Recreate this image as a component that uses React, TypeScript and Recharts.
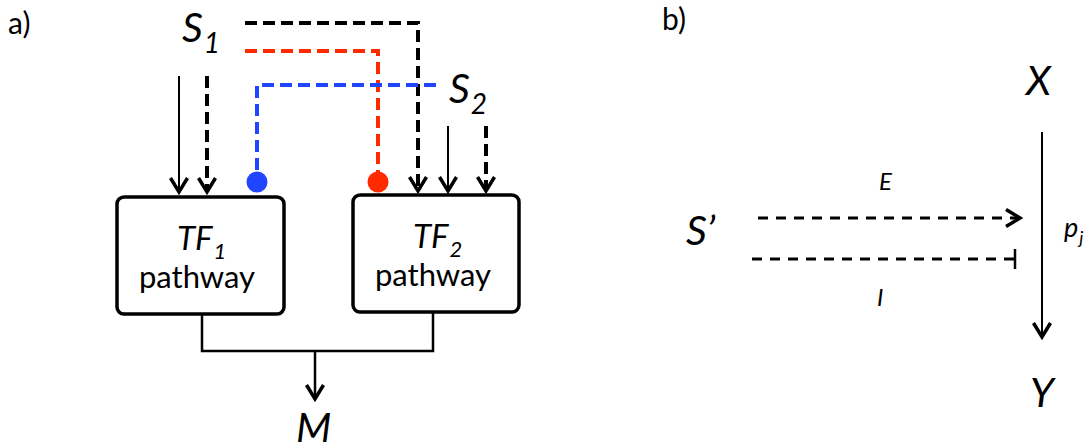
import React from 'react';
import {
	ComposedChart,
	Line,
	ReferenceArea,
	ReferenceDot,
	Scatter,
	XAxis,
	YAxis,
} from 'recharts';

// panel a) paths, in picture coordinates (y grows downward)
const s1Solid = [
	{ x: 179, y: 76 },
	{ x: 179, y: 192 },
];
const s1Dashed = [
	{ x: 207, y: 76 },
	{ x: 207, y: 192 },
];
const s1Long = [
	{ x: 245, y: 23 },
	{ x: 418, y: 23 },
	{ x: 418, y: 191 },
];
const s1Red = [
	{ x: 245, y: 51 },
	{ x: 378, y: 51 },
	{ x: 378, y: 182 },
];
const s2Blue = [
	{ x: 436, y: 85 },
	{ x: 257, y: 85 },
	{ x: 257, y: 182 },
];
const s2Solid = [
	{ x: 448, y: 126 },
	{ x: 448, y: 191 },
];
const s2Dashed = [
	{ x: 486, y: 126 },
	{ x: 486, y: 191 },
];
const joiner = [
	{ x: 202, y: 313 },
	{ x: 202, y: 351 },
	{ x: 433, y: 351 },
	{ x: 433, y: 312 },
];
const toM = [
	{ x: 315, y: 351 },
	{ x: 315, y: 399 },
];
const boxes = [
	{ x1: 117, x2: 284, y1: 197, y2: 314 },
	{ x1: 353, x2: 519, y1: 195, y2: 312 },
];
const dots = [
	{ x: 257, y: 182, color: '#1f45ff' },
	{ x: 378, y: 182, color: '#ff2a00' },
];

// panel b)
const xToY = [
	{ x: 1042, y: 132 },
	{ x: 1042, y: 337 },
];
const excite = [
	{ x: 758, y: 218 },
	{ x: 1020, y: 218 },
];
const inhibit = [
	{ x: 752, y: 259 },
	{ x: 1015, y: 259 },
];

const labels = [
	{ x: 8, y: 34, text: 'a)', size: 30, italic: false },
	{ x: 662, y: 30, text: 'b)', size: 30, italic: false },
	{ x: 182, y: 42, text: 'S', sub: '1', size: 41, italic: true },
	{ x: 449, y: 103, text: 'S', sub: '2', size: 41, italic: true },
	{ x: 296, y: 442, text: 'M', size: 41, italic: true },
	{ x: 177, y: 250, text: 'TF', sub: '1', size: 33, italic: true },
	{ x: 413, y: 248, text: 'TF', sub: '2', size: 33, italic: true },
	{ x: 197, y: 288, text: 'pathway', size: 31, italic: false, mid: true },
	{ x: 433, y: 286, text: 'pathway', size: 31, italic: false, mid: true },
	{ x: 1026, y: 95, text: 'X', size: 41, italic: true },
	{ x: 1030, y: 407, text: 'Y', size: 41, italic: true },
	{ x: 686, y: 245, text: 'S\u2019', size: 41, italic: true },
	{ x: 879, y: 190, text: 'E', size: 24, italic: true },
	{ x: 877, y: 306, text: 'I', size: 24, italic: true },
	{ x: 1064, y: 237, text: 'p', sub: 'j', size: 27, italic: true },
];

const Label = (props: any) => {
	const { cx, cy, payload } = props;
	const subSize = Math.round(payload.size * 0.68);
	return (
		<text
			x={cx}
			y={cy}
			fontFamily='Lato, "Open Sans", sans-serif'
			fontSize={payload.size}
			fontStyle={payload.italic ? 'italic' : 'normal'}
			fill='#000'
			textAnchor={payload.mid ? 'middle' : 'start'}
		>
			<tspan>{payload.text}</tspan>
			{payload.sub && (
				<tspan dx={1} dy={payload.size * 0.26} fontSize={subSize}>
					{payload.sub}
				</tspan>
			)}
		</text>
	);
};

const Box = (props: any) => (
	<rect
		x={props.x}
		y={props.y}
		width={props.width}
		height={props.height}
		rx={7}
		fill='#fff'
		stroke='#000'
		strokeWidth={3.5}
	/>
);

const W = 1091;
const H = 447;

const App = () => {
	return (
		<div style={{ width: W, height: H, background: '#fff' }}>
			<style>{'body{margin:0}'}</style>
			<ComposedChart width={W} height={H} margin={{ top: 0, right: 0, bottom: 0, left: 0 }}>
				<defs>
					<marker
						id='head'
						markerUnits='userSpaceOnUse'
						viewBox='-17 -11 21 22'
						refX={0}
						refY={0}
						markerWidth={21}
						markerHeight={22}
						orient='auto'
					>
						<path d='M-14,-8.5 L0,0 L-14,8.5' fill='none' stroke='#000' strokeWidth={3.5} strokeDasharray='none' />
					</marker>
					<marker
						id='bar'
						markerUnits='userSpaceOnUse'
						viewBox='-3 -12 6 24'
						refX={0}
						refY={0}
						markerWidth={6}
						markerHeight={24}
						orient='auto'
					>
						<path d='M0,-10 L0,10' fill='none' stroke='#000' strokeWidth={2.5} strokeDasharray='none' />
					</marker>
				</defs>
				<XAxis type='number' dataKey='x' domain={[0, W]} allowDataOverflow hide />
				<YAxis type='number' dataKey='y' domain={[0, H]} reversed allowDataOverflow hide />

				{boxes.map((b, i) => (
					<ReferenceArea key={i} x1={b.x1} x2={b.x2} y1={b.y1} y2={b.y2} shape={Box} />
				))}

				<Line data={joiner} dataKey='y' stroke='#000' strokeWidth={2.5} dot={false} activeDot={false} isAnimationActive={false} />
				<Line data={toM} dataKey='y' stroke='#000' strokeWidth={2.5} dot={false} activeDot={false} markerEnd='url(#head)' isAnimationActive={false} />
				<Line data={s1Solid} dataKey='y' stroke='#000' strokeWidth={2} dot={false} activeDot={false} markerEnd='url(#head)' isAnimationActive={false} />
				<Line data={s2Solid} dataKey='y' stroke='#000' strokeWidth={2} dot={false} activeDot={false} markerEnd='url(#head)' isAnimationActive={false} />
				<Line data={s1Dashed} dataKey='y' stroke='#000' strokeWidth={4} strokeDasharray='12 6' dot={false} activeDot={false} markerEnd='url(#head)' isAnimationActive={false} />
				<Line data={s2Dashed} dataKey='y' stroke='#000' strokeWidth={4} strokeDasharray='12 6' dot={false} activeDot={false} markerEnd='url(#head)' isAnimationActive={false} />
				<Line data={s1Long} dataKey='y' stroke='#000' strokeWidth={4} strokeDasharray='12 6' dot={false} activeDot={false} markerEnd='url(#head)' isAnimationActive={false} />
				<Line data={s1Red} dataKey='y' stroke='#ff2a00' strokeWidth={4} strokeDasharray='12 6' dot={false} activeDot={false} isAnimationActive={false} />
				<Line data={s2Blue} dataKey='y' stroke='#1f45ff' strokeWidth={4} strokeDasharray='12 6' dot={false} activeDot={false} isAnimationActive={false} />

				<Line data={xToY} dataKey='y' stroke='#000' strokeWidth={2} dot={false} activeDot={false} markerEnd='url(#head)' isAnimationActive={false} />
				<Line data={excite} dataKey='y' stroke='#000' strokeWidth={3} strokeDasharray='10 8' dot={false} activeDot={false} markerEnd='url(#head)' isAnimationActive={false} />
				<Line data={inhibit} dataKey='y' stroke='#000' strokeWidth={3} strokeDasharray='10 8' dot={false} activeDot={false} markerEnd='url(#bar)' isAnimationActive={false} />

				{dots.map((d, i) => (
					<ReferenceDot key={i} x={d.x} y={d.y} r={10.5} fill={d.color} stroke='none' />
				))}

				<Scatter data={labels} dataKey='y' shape={Label} isAnimationActive={false} />
			</ComposedChart>
		</div>
	);
};

export default App;
